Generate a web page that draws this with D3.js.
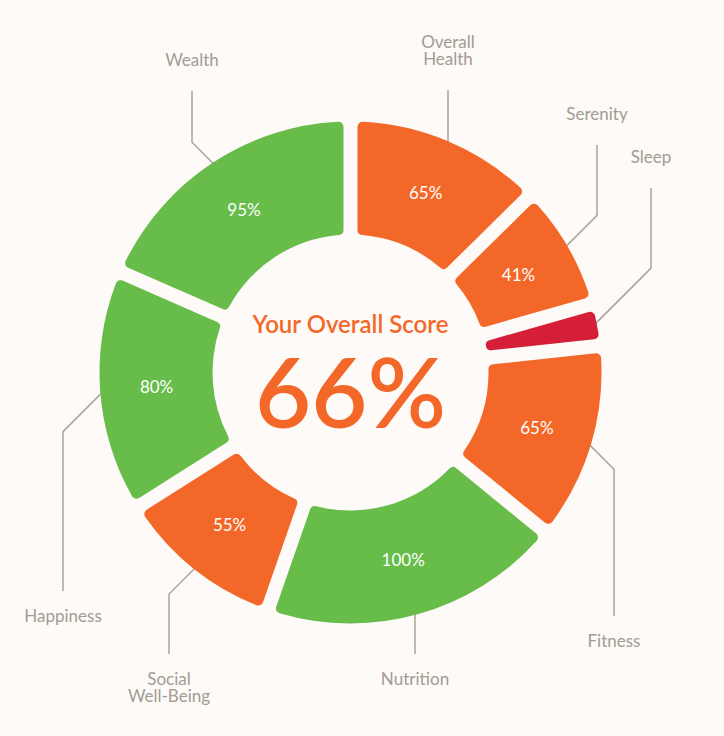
<!DOCTYPE html>
<html>
<head>
<meta charset="utf-8">
<script src="https://cdn.jsdelivr.net/npm/d3@7"></script>
<style>
  html, body { margin: 0; padding: 0; background: #fdfaf7; }
  svg { display: block; }
  text { font-family: Lato, "Open Sans", sans-serif; }
</style>
</head>
<body>
<svg id="chart"></svg>
<script>
// chart data
var categories = ["Overall Health", "Serenity", "Sleep", "Fitness", "Nutrition", "Social Well-Being", "Happiness", "Wealth"];
var scores = [65, 41, 14, 65, 100, 55, 80, 95];
var overallScore = 66;
var title = "Your Overall Score";

// where each outside label sits (center x, first baseline y, above or below the ring)
var labelLayout = [
  {x: 448, y: 48, side: "top", wrap: true},
  {x: 597, y: 120, side: "top"},
  {x: 651, y: 163, side: "top"},
  {x: 614, y: 647, side: "bottom"},
  {x: 415, y: 685, side: "bottom"},
  {x: 169, y: 685, side: "bottom", wrap: true},
  {x: 63, y: 622, side: "bottom"},
  {x: 192, y: 66, side: "top"}
];

var width = 724, height = 736;
var cx = 350.5, cy = 372.5;
var innerR = 138, outerR = 251;
var lineHeight = 17;

var green = "#67bc4a", orange = "#f36829", red = "#d51f39";
function scoreColor(v){
  if (v >= 80) return green;
  if (v >= 30) return orange;
  return red;
}

var svg = d3.select("#chart")
  .attr("width", width)
  .attr("height", height);

svg.append("rect")
  .attr("width", width)
  .attr("height", height)
  .style("fill", "#fdfaf7");

var data = categories.map(function(c, i){ return {name: c, value: scores[i], layout: labelLayout[i]}; });

var pie = d3.pie()
  .value(function(d){ return d.value; })
  .sort(null);

var arc = d3.arc()
  .innerRadius(innerR)
  .outerRadius(outerR)
  .cornerRadius(5)
  .padRadius(outerR)
  .padAngle(14 / outerR);

var arcs = pie(data);

var g = svg.append("g")
  .attr("transform", "translate(" + cx + "," + cy + ")");

/*
Leader lines: from the outer edge at the middle of the slice,
45 degrees towards the label column, then straight to the label.
*/
g.selectAll(".leader")
  .data(arcs)
  .enter()
  .append("polyline")
  .attr("class", "leader")
  .attr("points", function(d){
    var a = (d.startAngle + d.endAngle) / 2;
    var px = (outerR - 3) * Math.sin(a), py = -(outerR - 3) * Math.cos(a);
    var L = d.data.layout;
    var lx = L.x - cx;
    var nLines = L.wrap ? d.data.name.split(" ").length : 1;
    var endY = L.side == "top" ? (L.y + (nLines - 1) * lineHeight + 25) - cy : (L.y - 31) - cy;
    var dir = L.side == "top" ? -1 : 1;
    var ey = py + dir * Math.abs(lx - px);
    return [[px, py], [lx, ey], [lx, endY]].map(function(p){ return p.join(","); }).join(" ");
  })
  .style("fill", "none")
  .style("stroke", "#aaa49c")
  .style("stroke-width", 1.5);

g.selectAll(".slice")
  .data(arcs)
  .enter()
  .append("path")
  .attr("class", "slice")
  .attr("d", arc)
  .style("fill", function(d){ return scoreColor(d.data.value); });

// percentages inside the slices (skipped where the slice is too thin)
g.selectAll(".pct")
  .data(arcs.filter(function(d){ return (d.endAngle - d.startAngle) > 0.25; }))
  .enter()
  .append("text")
  .attr("class", "pct")
  .attr("transform", function(d){ return "translate(" + arc.centroid(d) + ")"; })
  .attr("dy", "0.36em")
  .attr("text-anchor", "middle")
  .attr("font-size", "17px")
  .style("fill", "white")
  .text(function(d){ return d.data.value + "%"; });

// outside labels
var labels = svg.selectAll(".label")
  .data(data)
  .enter()
  .append("text")
  .attr("class", "label")
  .attr("text-anchor", "middle")
  .attr("font-size", "17px")
  .style("fill", "#a29c94");

labels.each(function(d){
  var t = d3.select(this);
  var lines = d.layout.wrap ? d.name.split(" ") : [d.name];
  lines.forEach(function(l, i){
    t.append("tspan")
      .attr("x", d.layout.x)
      .attr("y", d.layout.y + i * lineHeight)
      .text(l);
  });
});

// center text
svg.append("text")
  .attr("x", cx)
  .attr("y", 333)
  .attr("text-anchor", "middle")
  .attr("font-size", "24px")
  .attr("font-weight", 600)
  .style("fill", orange)
  .text(title);

svg.append("text")
  .attr("x", cx)
  .attr("y", 428)
  .attr("text-anchor", "middle")
  .attr("font-size", "97px")
  .attr("font-weight", 600)
  .style("fill", orange)
  .text(overallScore + "%");
</script>
</body>
</html>
